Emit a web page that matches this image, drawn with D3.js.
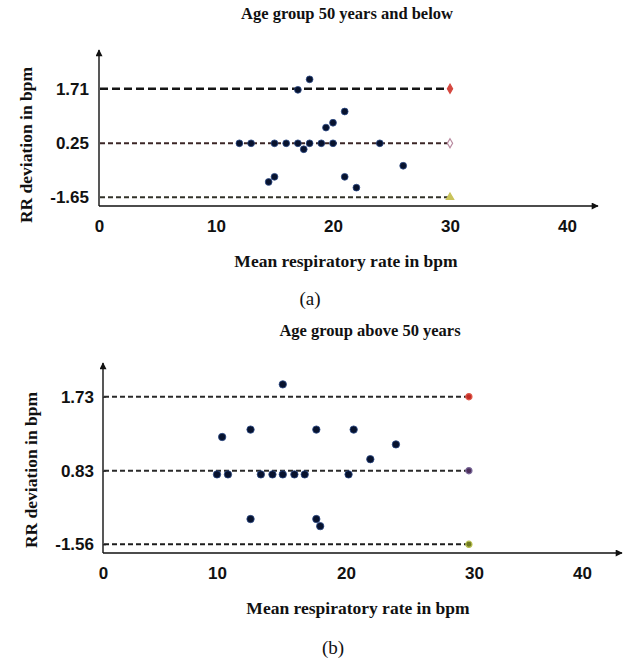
<!DOCTYPE html>
<html>
<head>
<meta charset="utf-8">
<script src="https://cdn.jsdelivr.net/npm/d3@7"></script>
<style>
  body { margin: 0; background: #fff; }
  svg { display: block; font-family: "Liberation Serif", "Times New Roman", serif; }
  .title, .axis-label, .tick text { font-weight: bold; fill: #111; }
  .caption { font-size: 19px; fill: #111; }
</style>
</head>
<body>
<svg width="630" height="661"></svg>
<script>
const svg = d3.select('svg');

// shared
const xTicks = [0, 10, 20, 30, 40];
const xAxisLabel = 'Mean respiratory rate in bpm';
const yAxisLabel = 'RR deviation in bpm';

// panel (a) : age group 50 years and below
const titleA = 'Age group 50 years and below';
const limitsA = [1.71, 0.25, -1.65];
const limitEndA = 30;
const meanRateA = [12, 13, 14.5, 15, 15, 16, 17, 17, 17.5, 18, 18, 19, 19.4, 20, 20, 21, 21, 22, 24, 26];
const deviationA = [0.25, 0.25, -1.11, -0.93, 0.25, 0.25, 1.68, 0.25, 0.04, 1.96, 0.25, 0.25, 0.67, 0.80, 0.25, 1.1, -0.93, -1.31, 0.25, -0.54];

// panel (b) : age group above 50 years
const titleB = 'Age group above 50 years';
const limitsB = [1.73, 0.83, -1.56];
const limitEndB = 29.6;
const meanRateB = [10.0, 10.4, 10.85, 12.6, 12.6, 13.4, 14.3, 15.1, 15.1, 16.0, 16.8, 17.7, 17.7, 18.0, 20.2, 20.6, 21.9, 23.9];
const deviationB = [0.71, 1.24, 0.71, 1.33, -0.74, 0.71, 0.71, 0.71, 1.88, 0.71, 0.71, 1.33, -0.74, -0.97, 0.71, 1.33, 0.97, 1.15];

// arrow head for axes
svg.append('defs').append('marker')
    .attr('id', 'arrow')
    .attr('viewBox', '0 0 10 10')
    .attr('refX', 9).attr('refY', 5)
    .attr('markerWidth', 8).attr('markerHeight', 7)
    .attr('markerUnits', 'userSpaceOnUse')
    .attr('orient', 'auto')
    .append('path')
    .attr('d', 'M0,0 L10,5 L0,10 Z')
    .attr('fill', '#111');

function drawPanel(p) {
    const g = svg.append('g');

    const x = d3.scaleLinear().domain(p.xDomain).range(p.xRange);
    // the limit lines are evenly spaced in the figure, so piecewise scale
    const y = d3.scaleLinear()
        .domain(p.limits.slice().reverse())
        .range(p.yRange);

    const x0 = x(0);
    const axisY = p.axisY;

    // x axis ticks
    g.append('g')
        .attr('transform', `translate(0,${axisY})`)
        .call(d3.axisBottom(x).tickValues(xTicks).tickSize(0).tickPadding(p.xPad))
        .call(a => a.select('.domain').remove())
        .selectAll('text').attr('font-size', 17);

    // y axis ticks
    g.append('g')
        .attr('transform', `translate(${x0},0)`)
        .call(d3.axisLeft(y).tickValues(p.limits).tickSize(p.yTickSize).tickPadding(p.yPad)
            .tickFormat(d => d.toFixed(2)))
        .call(a => a.select('.domain').remove())
        .call(a => a.selectAll('line').attr('stroke', '#222').attr('transform', 'translate(3,0)'))
        .selectAll('text').attr('font-size', 17);

    // axis lines with arrows
    g.append('line')
        .attr('x1', x0).attr('y1', axisY)
        .attr('x2', p.xArrow).attr('y2', axisY)
        .attr('stroke', '#111').attr('stroke-width', 1.4)
        .attr('marker-end', 'url(#arrow)');
    g.append('line')
        .attr('x1', x0).attr('y1', axisY)
        .attr('x2', x0).attr('y2', p.yArrow)
        .attr('stroke', '#111').attr('stroke-width', 1.4)
        .attr('marker-end', 'url(#arrow)');

    // limit lines
    g.selectAll('.limit')
        .data(p.limits)
        .enter()
        .append('line')
        .attr('class', 'limit')
        .attr('x1', x0 + 1).attr('x2', x(p.limitEnd))
        .attr('y1', d => y(d)).attr('y2', d => y(d))
        .attr('stroke', (d, i) => p.lineColors[i])
        .attr('stroke-width', (d, i) => p.lineWidths[i])
        .attr('stroke-dasharray', (d, i) => p.dashes[i]);

    // end markers
    g.selectAll('.end')
        .data(p.limits)
        .enter()
        .append('path')
        .attr('class', 'end')
        .attr('transform', d => `translate(${x(p.limitEnd)},${y(d)})`)
        .attr('d', (d, i) => d3.symbol().type(p.symbols[i]).size(p.symbolSize)())
        .attr('fill', (d, i) => p.markFill[i])
        .attr('stroke', (d, i) => p.markStroke[i])
        .attr('stroke-width', 1.2);

    // points
    g.selectAll('.dot')
        .data(p.xs.map((v, i) => [v, p.ys[i]]))
        .enter()
        .append('circle')
        .attr('class', 'dot')
        .attr('cx', d => x(d[0]))
        .attr('cy', d => y(d[1]))
        .attr('r', p.r)
        .attr('fill', '#07122e')
        .attr('stroke', '#2c4a86')
        .attr('stroke-width', 0.8);

    // titles and labels
    g.append('text')
        .attr('class', 'title')
        .attr('x', p.titleX).attr('y', p.titleY)
        .attr('text-anchor', 'middle')
        .attr('font-size', 16.5)
        .text(p.title);

    g.append('text')
        .attr('class', 'axis-label')
        .attr('x', p.xLabelX).attr('y', p.xLabelY)
        .attr('text-anchor', 'middle')
        .attr('font-size', 17.5)
        .text(xAxisLabel);

    g.append('text')
        .attr('class', 'axis-label')
        .attr('transform', `translate(${p.yLabelX},${p.yLabelY}) rotate(-90)`)
        .attr('text-anchor', 'middle')
        .attr('font-size', 17.5)
        .text(yAxisLabel);

    g.append('text')
        .attr('class', 'caption')
        .attr('x', p.capX).attr('y', p.capY)
        .attr('text-anchor', 'middle')
        .text(p.caption);
}

drawPanel({
    title: titleA, caption: '(a)',
    limits: limitsA, limitEnd: limitEndA,
    xs: meanRateA, ys: deviationA,
    xDomain: [0, 40], xRange: [99, 567],
    yRange: [197.3, 143.3, 88.7],
    axisY: 206, xArrow: 598, yArrow: 50,
    xPad: 14, yPad: 10, yTickSize: 0,
    lineColors: ['#151515', '#3b2626', '#33332a'],
    lineWidths: [2.6, 2, 2],
    dashes: ['8,4', '5,3', '5,3'],
    symbols: [d3.symbolDiamond, d3.symbolDiamond, d3.symbolTriangle],
    symbolSize: 24,
    markFill: ['#d5473f', '#fff', '#c9c35a'],
    markStroke: ['#d5473f', '#b98aa0', '#c9c35a'],
    r: 3.4,
    titleX: 347, titleY: 19,
    xLabelX: 346, xLabelY: 267,
    yLabelX: 32, yLabelY: 145,
    capX: 310, capY: 305
});

drawPanel({
    title: titleB, caption: '(b)',
    limits: limitsB, limitEnd: limitEndB,
    xs: meanRateB, ys: deviationB,
    xDomain: [0, 10, 20, 30, 40], xRange: [103, 217, 346, 474, 582],
    yRange: [544.3, 470.7, 396.7],
    axisY: 553, xArrow: 622, yArrow: 363,
    xPad: 14, yPad: 6, yTickSize: 3,
    lineColors: ['#2a2a2a', '#2a2a2a', '#1c1c1c'],
    lineWidths: [2, 2, 2],
    dashes: ['5,3', '5,3', '5,3'],
    symbols: [d3.symbolCircle, d3.symbolCircle, d3.symbolCircle],
    symbolSize: 30,
    markFill: ['#c22d27', '#4d2f5c', '#6f7a22'],
    markStroke: ['#e05a4a', '#7a6a9a', '#b8c050'],
    r: 3.7,
    titleX: 370, titleY: 336,
    xLabelX: 358, xLabelY: 614,
    yLabelX: 37, yLabelY: 470,
    capX: 333, capY: 654
});
</script>
</body>
</html>
